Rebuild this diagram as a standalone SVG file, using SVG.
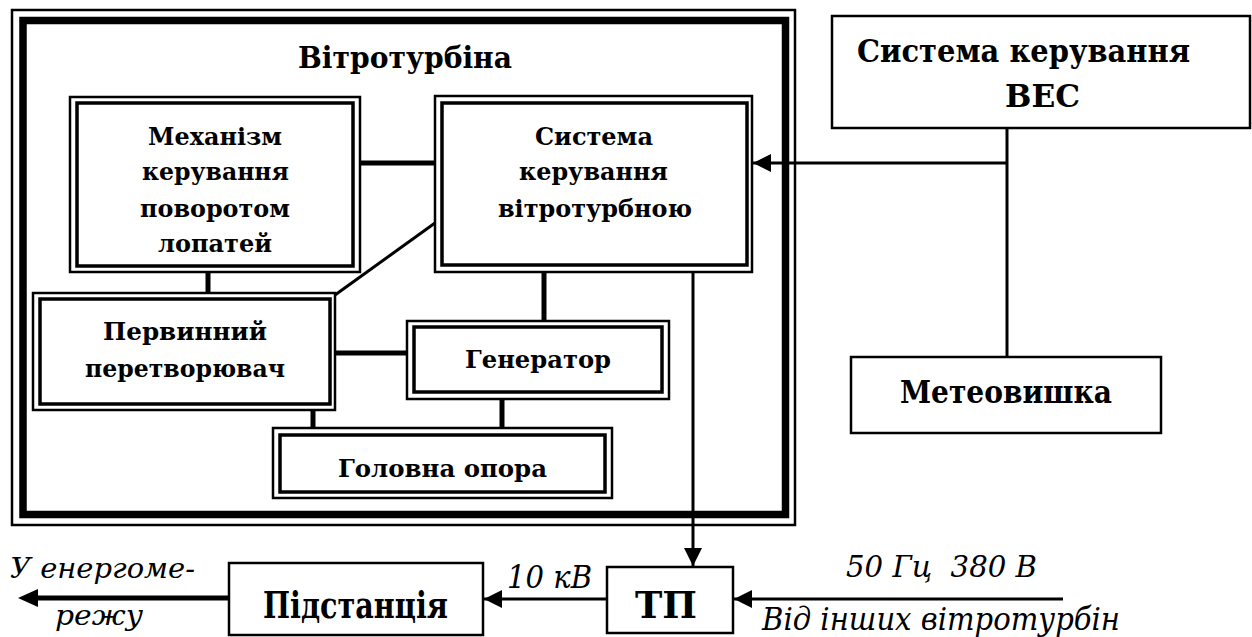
<svg xmlns="http://www.w3.org/2000/svg" width="1252" height="637" viewBox="0 0 1252 637">
<defs>
<style>
.o{fill:none;stroke:#000;stroke-width:2.5}
.i{fill:none;stroke:#000;stroke-width:3.5}
.s{fill:none;stroke:#000;stroke-width:2.5}
.b{font-family:'DejaVu Serif','Liberation Serif',serif;font-weight:bold;fill:#000}
.it{font-family:'DejaVu Serif','Liberation Serif',serif;font-style:italic;fill:#000}
.c5{stroke:#000;stroke-width:5;fill:none}
.c3{stroke:#000;stroke-width:3;fill:none}
</style>
<marker id="ah" viewBox="0 0 10 10" refX="10" refY="5" markerWidth="6" markerHeight="6" markerUnits="strokeWidth" orient="auto">
<path d="M0,0 L10,5 L0,10 Z" fill="#000"/>
</marker>
</defs>
<rect width="1252" height="637" fill="#fff"/>
<g id="frame">
<rect x="12" y="10" width="783" height="515" fill="none" stroke="#000" stroke-width="2.5"/>
<rect x="23" y="20.5" width="762.5" height="494" fill="none" stroke="#000" stroke-width="7.5"/>
<text class="b" x="298" y="68" font-size="30" textLength="214" lengthAdjust="spacingAndGlyphs">Вітротурбіна</text>
</g>
<g id="connectors">
<line class="c5" x1="360" y1="163" x2="435" y2="163"/>
<line class="c3" x1="435" y1="223" x2="335" y2="295"/>
<line class="c5" x1="208" y1="272" x2="208" y2="293"/>
<line class="c5" x1="335" y1="353" x2="407" y2="353"/>
<line class="c5" x1="544" y1="272" x2="544" y2="321"/>
<line class="c5" x1="502" y1="399" x2="502" y2="428"/>
<line class="c5" x1="313" y1="410" x2="313" y2="428"/>
<line class="c3" x1="693" y1="272" x2="693" y2="566" marker-end="url(#ah)"/>
<line class="c3" x1="1007" y1="128" x2="1007" y2="357"/>
<line class="c3" x1="1007" y1="163" x2="753" y2="163" marker-end="url(#ah)"/>
<line class="c3" x1="607" y1="599" x2="484" y2="599" marker-end="url(#ah)"/>
<line class="c5" x1="229" y1="598" x2="34" y2="598"/>
<path d="M18,598 L38,589 L38,607 Z" fill="#000"/>
<line class="c3" x1="1063" y1="599" x2="734" y2="599" marker-end="url(#ah)"/>
</g>
<g id="mechanism">
<rect class="o" x="70" y="97" width="290" height="175"/>
<rect class="i" x="77" y="103" width="276" height="163"/>
<text class="b" font-size="23.5" x="148" y="145" textLength="134" lengthAdjust="spacingAndGlyphs">Механізм</text>
<text class="b" font-size="23.5" x="142" y="180" textLength="147" lengthAdjust="spacingAndGlyphs">керування</text>
<text class="b" font-size="23.5" x="140" y="217" textLength="150" lengthAdjust="spacingAndGlyphs">поворотом</text>
<text class="b" font-size="23.5" x="158" y="252" textLength="114" lengthAdjust="spacingAndGlyphs">лопатей</text>
</g>
<g id="turbine-control">
<rect class="o" x="435" y="96" width="317" height="176"/>
<rect class="i" x="442" y="103" width="305" height="162"/>
<text class="b" font-size="23.5" x="535" y="145" textLength="118" lengthAdjust="spacingAndGlyphs">Система</text>
<text class="b" font-size="23.5" x="519" y="180" textLength="149" lengthAdjust="spacingAndGlyphs">керування</text>
<text class="b" font-size="23.5" x="498" y="217" textLength="194" lengthAdjust="spacingAndGlyphs">вітротурбною</text>
</g>
<g id="primary">
<rect class="o" x="33" y="293" width="302" height="117"/>
<rect class="i" x="40" y="299" width="290" height="105"/>
<text class="b" font-size="23.5" x="103" y="340" textLength="164" lengthAdjust="spacingAndGlyphs">Первинний</text>
<text class="b" font-size="23.5" x="85" y="377" textLength="200" lengthAdjust="spacingAndGlyphs">перетворювач</text>
</g>
<g id="generator">
<rect class="o" x="407" y="321" width="262" height="78"/>
<rect class="i" x="414" y="327" width="248" height="65"/>
<text class="b" font-size="24" x="465" y="368" textLength="146" lengthAdjust="spacingAndGlyphs">Генератор</text>
</g>
<g id="main-support">
<rect class="o" x="273" y="428" width="339" height="70"/>
<rect class="i" x="280" y="435" width="325" height="57"/>
<text class="b" font-size="25" x="338" y="477" textLength="209" lengthAdjust="spacingAndGlyphs">Головна опора</text>
</g>
<g id="wpp-control">
<rect class="s" x="832" y="16" width="418" height="112"/>
<text class="b" font-size="32" x="857" y="62" textLength="333" lengthAdjust="spacingAndGlyphs">Система керування</text>
<text class="b" font-size="32" x="1005" y="107" textLength="75" lengthAdjust="spacingAndGlyphs">ВЕС</text>
</g>
<g id="meteo">
<rect class="s" x="851" y="357" width="310" height="76"/>
<text class="b" font-size="31" x="900" y="403" textLength="212" lengthAdjust="spacingAndGlyphs">Метеовишка</text>
</g>
<g id="substation">
<rect class="s" x="229" y="563" width="254" height="72"/>
<text class="b" font-size="37" x="263" y="618" textLength="185" lengthAdjust="spacingAndGlyphs">Підстанція</text>
</g>
<g id="tp">
<rect class="s" x="607" y="567" width="126" height="66"/>
<text class="b" font-size="38" x="635" y="618" textLength="62" lengthAdjust="spacingAndGlyphs">ТП</text>
</g>
<g id="labels">
<text class="it" font-size="27" x="10" y="578" textLength="185" lengthAdjust="spacingAndGlyphs">У енергоме-</text>
<text class="it" font-size="27" x="55" y="625" textLength="88" lengthAdjust="spacingAndGlyphs">режу</text>
<text class="it" font-size="32" x="507" y="588" textLength="85" lengthAdjust="spacingAndGlyphs">10 кВ</text>
<text class="it" font-size="30" x="846" y="577" textLength="191" lengthAdjust="spacingAndGlyphs" xml:space="preserve">50 Гц  380 В</text>
<text class="it" font-size="32" x="762" y="630" textLength="358" lengthAdjust="spacingAndGlyphs">Від інших вітротурбін</text>
</g>
</svg>
